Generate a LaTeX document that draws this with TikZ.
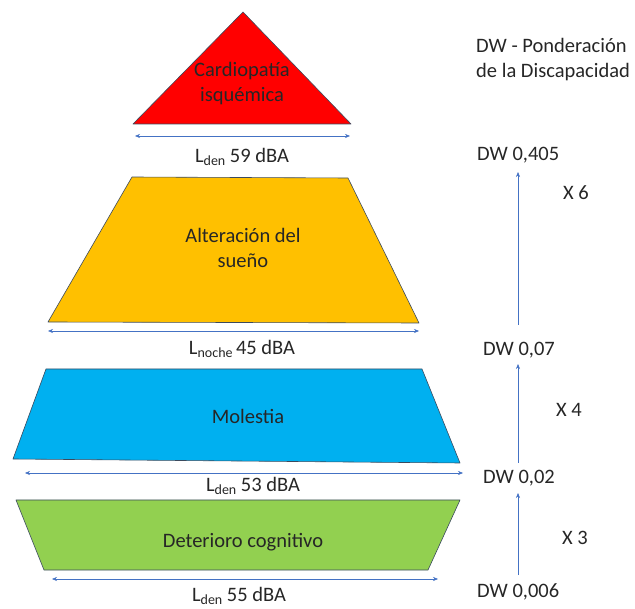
\documentclass[tikz,border=0pt]{standalone}
\usepackage{fontspec}
\setmainfont{Carlito}
\usetikzlibrary{arrows.meta}
\definecolor{heart}{HTML}{FF0000}
\definecolor{sleep}{HTML}{FFC000}
\definecolor{annoy}{HTML}{00B0F0}
\definecolor{cogn}{HTML}{92D050}
\definecolor{edge}{HTML}{3B4A5E}
\definecolor{arrowblue}{HTML}{4472C4}
\definecolor{ink}{HTML}{262626}
\newcommand\lsub[1]{L\raisebox{-0.35ex}{\fontsize{14}{14}\selectfont #1}}
\tikzset{
  level/.style={draw=edge, line width=0.6pt, line join=round},
  label/.style={font=\fontsize{20.5}{25}\selectfont, text=ink, align=center, inner sep=0pt},
  span/.style={draw=arrowblue, line width=0.5pt, {Stealth[length=5pt,width=4pt]}-{Stealth[length=5pt,width=4pt]}},
  rise/.style={draw=arrowblue, line width=0.5pt, -{Stealth[length=5pt,width=4pt]}},
}
\begin{document}
\begin{tikzpicture}[x=1pt,y=-1pt]
\useasboundingbox (0,0) rectangle (635,609);

% levels of the pyramid
\path[level, fill=heart] (133,124) -- (243,12) -- (351,124) -- cycle;
\path[level, fill=sleep] (132,177) -- (348,178) -- (419,323) -- (48,322) -- cycle;
\path[level, fill=annoy] (46,369) -- (422,369) -- (460,463) -- (13,459) -- cycle;
\path[level, fill=cogn] (16,500) -- (460,500) -- (428,570) -- (44,570) -- cycle;

% level names
\node[label] (cardio) at (242,84) {Cardiopatía\\isquémica};
\node[label] (sueno) at (243,248) {Alteración del\\sueño};
\node[label] (molestia) at (248,416) {Molestia};
\node[label] (deterioro) at (243,542) {Deterioro cognitivo};

% width arrows with their thresholds
\coordinate (a1l) at (135,136); \coordinate (a1r) at (350,136);
\coordinate (a2l) at (48,331);  \coordinate (a2r) at (419,331);
\coordinate (a3l) at (25,473);  \coordinate (a3r) at (463,473);
\coordinate (a4l) at (52,579);  \coordinate (a4r) at (438,579);
\draw[span] (a1l) -- (a1r);
\draw[span] (a2l) -- (a2r);
\draw[span] (a3l) -- (a3r);
\draw[span] (a4l) -- (a4r);
\node[label] (t1) at (242,157) {\lsub{den} 59 dBA};
\node[label] (t2) at (242,349) {\lsub{noche}\,45 dBA};
\node[label] (t3) at (253,486) {\lsub{den} 53 dBA};
\node[label] (t4) at (239,596) {\lsub{den} 55 dBA};

% disability weights
\node[label, anchor=west, align=left] (title) at (476,60) {DW - Ponderación\\de la Discapacidad};
\node[label, anchor=west] (dw1) at (477,155) {DW 0,405};
\node[label, anchor=west] (dw2) at (483,350) {DW 0,07};
\node[label, anchor=west] (dw3) at (483,478) {DW 0,02};
\node[label, anchor=west] (dw4) at (477,592) {DW 0,006};

\coordinate (r1t) at (518,172); \coordinate (r1b) at (518,325);
\coordinate (r2t) at (518,364); \coordinate (r2b) at (518,463);
\coordinate (r3t) at (518,493); \coordinate (r3b) at (518,575);
\draw[rise] (r1b) -- (r1t);
\draw[rise] (r2b) -- (r2t);
\draw[rise] (r3b) -- (r3t);

\node[label] (x6) at (576,193) {X 6};
\node[label] (x4) at (569,410) {X 4};
\node[label] (x3) at (575,538) {X 3};
\end{tikzpicture}
\end{document}
